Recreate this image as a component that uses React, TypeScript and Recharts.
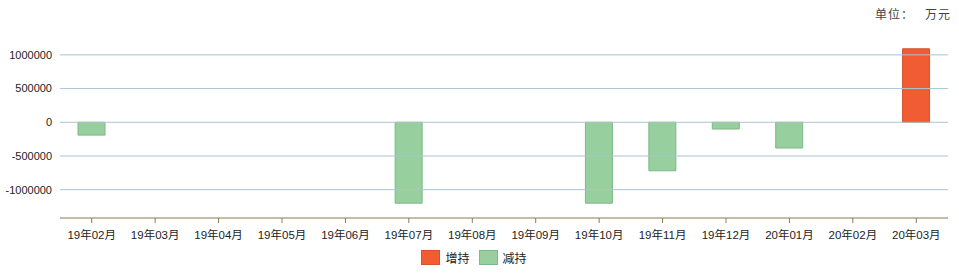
import React from "react";
import {
  BarChart,
  Bar,
  XAxis,
  YAxis,
  ReferenceLine,
  Legend
} from "recharts";

const months = [
  "19年02月",
  "19年03月",
  "19年04月",
  "19年05月",
  "19年06月",
  "19年07月",
  "19年08月",
  "19年09月",
  "19年10月",
  "19年11月",
  "19年12月",
  "20年01月",
  "20年02月",
  "20年03月"
];

// 增持 (increase) and 减持 (decrease), in 万元
const increase = [0, 0, 0, 0, 0, 0, 0, 0, 0, 0, 0, 0, 0, 1090000];
const decrease = [
  -190000, 0, 0, 0, 0, -1200000, 0, 0, -1200000, -720000, -100000, -382000, 0, 0
];

const yTicks = [-1000000, -500000, 0, 500000, 1000000];

const series = [
  { key: "inc", name: "增持", fill: "#f25c33", stroke: "#d6522c" },
  { key: "dec", name: "减持", fill: "#97cf9e", stroke: "#7db886" }
];

const data = months.map((m, i) => ({
  month: m,
  inc: increase[i] || null,
  dec: decrease[i] || null
}));

const FONT = '"Liberation Sans", Arial, "Noto Sans CJK SC", sans-serif';

function LegendBox() {
  return (
    <div
      style={{
        display: "flex",
        justifyContent: "center",
        alignItems: "center",
        gap: 9,
        fontFamily: FONT,
        fontSize: 12,
        color: "#222",
        paddingTop: 5
      }}
    >
      {series.map((s) => (
        <div key={s.key} style={{ display: "flex", alignItems: "center" }}>
          <span
            style={{
              display: "inline-block",
              width: 17,
              height: 13,
              background: s.fill,
              border: `1px solid ${s.stroke}`,
              marginRight: 5
            }}
          />
          <span>{s.name}</span>
        </div>
      ))}
    </div>
  );
}

export default function App() {
  return (
    <div
      style={{
        position: "absolute",
        left: 0,
        top: 0,
        width: 959,
        height: 278,
        background: "#fff"
      }}
    >
      <div
        style={{
          position: "absolute",
          right: 8,
          top: 5,
          fontFamily: '"Noto Sans CJK SC", sans-serif',
          fontSize: 12,
          letterSpacing: 1,
          color: "#444",
          whiteSpace: "pre"
        }}
      >
        单位：   万元
      </div>
      <BarChart
        width={959}
        height={278}
        data={data}
        stackOffset="sign"
        margin={{ top: 38, right: 11, left: 0, bottom: 0 }}
      >
        <XAxis
          dataKey="month"
          height={26}
          stroke="#8c7853"
          tickSize={5}
          tickMargin={8}
          tick={{ fill: "#222", fontSize: 11.5, fontFamily: FONT }}
          interval={0}
        />
        <YAxis
          width={60}
          domain={[-1420000, 1250000]}
          ticks={yTicks}
          axisLine={false}
          tickLine={false}
          tick={{ fill: "#222", fontSize: 11, fontFamily: FONT }}
        />
        {yTicks.map((t) => (
          <ReferenceLine key={t} y={t} stroke="#a9c6d0" />
        ))}
        <Legend
          verticalAlign="bottom"
          height={34}
          content={() => <LegendBox />}
        />
        {series.map((s) => (
          <Bar
            key={s.key}
            dataKey={s.key}
            name={s.name}
            stackId="a"
            barSize={27}
            fill={s.fill}
            stroke={s.stroke}
            isAnimationActive={false}
          />
        ))}
      </BarChart>
    </div>
  );
}
